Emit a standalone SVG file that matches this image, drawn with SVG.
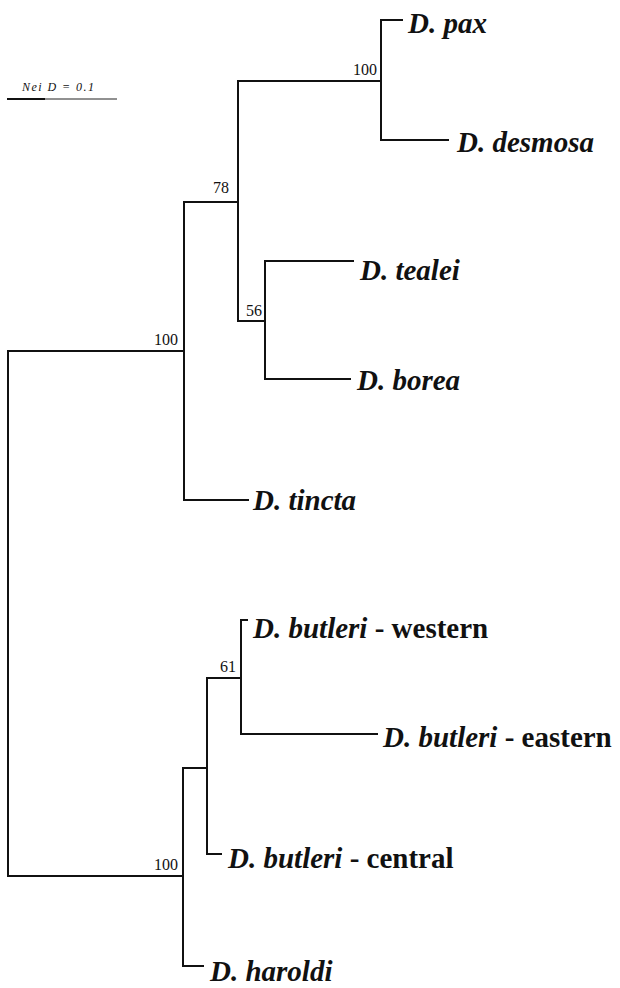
<svg xmlns="http://www.w3.org/2000/svg" width="620" height="988" viewBox="0 0 620 988">
<style>
.br{stroke:#111;stroke-width:2;fill:none;stroke-linecap:square}
.sp{font-family:"Liberation Serif",serif;font-size:29px;font-weight:bold;fill:#111}
.it{font-style:italic}
.bs{font-family:"Liberation Serif",serif;font-size:16px;fill:#111;text-anchor:end}
.sc{font-family:"Liberation Serif",serif;font-size:12px;font-style:italic;fill:#111}
</style>
<rect width="620" height="988" fill="#fff"/>
<g id="scale">
<line x1="7" y1="99" x2="117" y2="99" stroke="#222" stroke-width="1"/>
<line x1="7" y1="99" x2="45" y2="99" stroke="#111" stroke-width="2"/>
<text class="sc" x="22" y="91" textLength="72">Nei D = 0.1</text>
</g>
<g id="connectors" class="br">
<path d="M8,351V876"/>
<path d="M8,351H184M184,202V500"/>
<path d="M184,202H238M238,81V321"/>
<path d="M238,81H381M381,20V140"/>
<path d="M381,20H402M381,140H448"/>
<path d="M238,321H265M265,261V379"/>
<path d="M265,261H353M265,379H350"/>
<path d="M184,500H248"/>
<path d="M8,876H183M183,768V966"/>
<path d="M183,768H207M207,678V854"/>
<path d="M207,854H221"/>
<path d="M207,678H241M241,620V734"/>
<path d="M241,620H247M241,734H377"/>
<path d="M183,966H203"/>
</g>
<g id="support">
<text class="bs" x="178" y="345">100</text>
<text class="bs" x="229" y="193">78</text>
<text class="bs" x="377" y="75">100</text>
<text class="bs" x="262" y="316">56</text>
<text class="bs" x="178" y="870">100</text>
<text class="bs" x="236" y="672">61</text>
</g>
<g id="pax"><text class="sp it" x="408" y="33">D. pax</text></g>
<g id="desmosa"><text class="sp it" x="457" y="152">D. desmosa</text></g>
<g id="tealei"><text class="sp it" x="360" y="280">D. tealei</text></g>
<g id="borea"><text class="sp it" x="357" y="390">D. borea</text></g>
<g id="tincta"><text class="sp it" x="253" y="510">D. tincta</text></g>
<g id="western"><text class="sp" x="253" y="638"><tspan class="it">D. butleri</tspan> - western</text></g>
<g id="eastern"><text class="sp" x="383" y="747"><tspan class="it">D. butleri</tspan> - eastern</text></g>
<g id="central"><text class="sp" x="228" y="868"><tspan class="it">D. butleri</tspan> - central</text></g>
<g id="haroldi"><text class="sp it" x="210" y="981">D. haroldi</text></g>
</svg>
